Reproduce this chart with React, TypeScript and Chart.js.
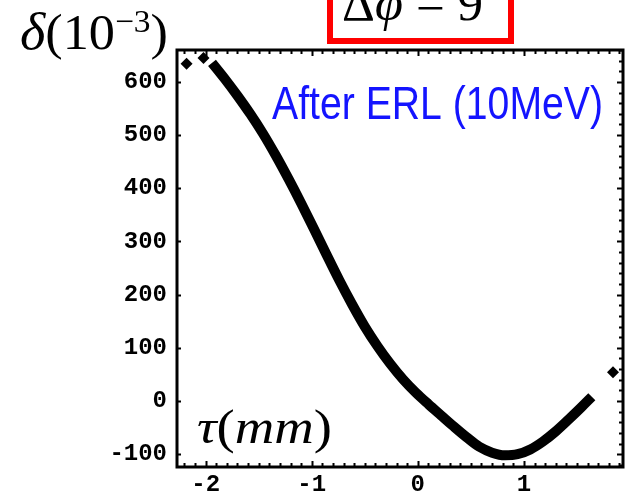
import { useEffect, useRef } from "react";
import { Chart, registerables } from "chart.js";

Chart.register(...registerables);

// Energy spread δ (10^-3) versus bunch position τ (mm) after the ERL
const TAU_MM = [
  -1.94, -1.82, -1.7, -1.58, -1.46, -1.34, -1.22, -1.1, -0.98, -0.86, -0.74, -0.62,
  -0.5, -0.38, -0.26, -0.14, -0.02, 0.1, 0.22, 0.34, 0.46, 0.58, 0.7, 0.82, 0.94,
  1.06, 1.18, 1.3, 1.42, 1.54, 1.64,
];
const DELTA = [
  636, 606, 574, 540, 503, 462, 418, 372, 324, 275, 227, 182, 140, 103, 70, 41, 16,
  -6, -27, -48, -68, -86, -97, -102, -100, -91, -76, -57, -35, -12, 8,
];

// Isolated particles away from the main distribution
const STRAY_TAU = [-2.18, -2.02, 1.84];
const STRAY_DELTA = [634, 645, 54];

const X_TICKS = [-2, -1, 0, 1];
const Y_TICKS = [-100, 0, 100, 200, 300, 400, 500, 600];
const X_MIN = -2.27;
const X_MAX = 1.934;
const Y_MIN = -124;
const Y_MAX = 660;
const X_MINOR_STEP = 0.1;
const Y_MINOR_STEP = 20;

const SERIF = "'Liberation Serif', 'Times New Roman', serif";
const TICK_FONT = { family: "'Liberation Mono', 'DejaVu Sans Mono', monospace", size: 24, weight: "bold" as const };

type Run = { t: string; font: string; dy?: number };

function drawRuns(ctx: CanvasRenderingContext2D, runs: Run[], x: number, y: number, width?: number) {
  const widths = runs.map((r) => {
    ctx.font = r.font;
    return ctx.measureText(r.t).width;
  });
  const total = widths.reduce((a, b) => a + b, 0);
  ctx.save();
  ctx.translate(x, y);
  if (width) ctx.scale(width / total, 1);
  ctx.textBaseline = "alphabetic";
  ctx.textAlign = "left";
  let cx = 0;
  runs.forEach((r, i) => {
    ctx.font = r.font;
    ctx.fillText(r.t, cx, r.dy || 0);
    cx += widths[i];
  });
  ctx.restore();
}

const framePlugin = {
  id: "frameAndLabels",
  afterDraw(chart: Chart) {
    const ctx = chart.ctx;
    const { left, right, top, bottom } = chart.chartArea;
    const xs = chart.scales.x;
    const ys = chart.scales.y;
    ctx.save();
    ctx.strokeStyle = "#000";
    ctx.lineWidth = 2;
    ctx.beginPath();
    // bottom and top ticks (pointing inward)
    const xStart = Math.ceil(X_MIN / X_MINOR_STEP);
    const xEnd = Math.floor(X_MAX / X_MINOR_STEP);
    for (let i = xStart; i <= xEnd; i++) {
      const v = i * X_MINOR_STEP;
      const px = Math.round(xs.getPixelForValue(v)) + 0.5;
      const major = Math.abs(v - Math.round(v)) < 1e-6;
      const len = major ? 6 : 4;
      ctx.moveTo(px, bottom);
      ctx.lineTo(px, bottom - len);
      ctx.moveTo(px, top);
      ctx.lineTo(px, top + len);
    }
    // right ticks every minor step, left ticks only at labelled values
    const yStart = Math.ceil(Y_MIN / Y_MINOR_STEP);
    const yEnd = Math.floor(Y_MAX / Y_MINOR_STEP);
    for (let i = yStart; i <= yEnd; i++) {
      const v = i * Y_MINOR_STEP;
      const py = Math.round(ys.getPixelForValue(v)) + 0.5;
      const major = v % 100 === 0;
      ctx.moveTo(right, py);
      ctx.lineTo(right - (major ? 6 : 4), py);
      if (major) {
        ctx.moveTo(left, py);
        ctx.lineTo(left + 4, py);
      }
    }
    ctx.stroke();

    // plot frame
    ctx.lineWidth = 3;
    ctx.strokeRect(left, top, right - left, bottom - top);

    // titles and axis captions
    ctx.fillStyle = "#000";
    drawRuns(
      ctx,
      [
        { t: "δ", font: `italic 52px ${SERIF}` },
        { t: "(10", font: `50px ${SERIF}` },
        { t: "−3", font: `32px ${SERIF}`, dy: -17 },
        { t: ")", font: `50px ${SERIF}` },
      ],
      20,
      49,
      148
    );
    drawRuns(
      ctx,
      [
        { t: "τ", font: `italic 48px ${SERIF}` },
        { t: "(", font: `48px ${SERIF}` },
        { t: "mm", font: `italic 48px ${SERIF}` },
        { t: ")", font: `48px ${SERIF}` },
      ],
      197,
      443,
      135
    );
    drawRuns(
      ctx,
      [
        { t: "Δ", font: `50px ${SERIF}` },
        { t: "φ", font: `italic 50px ${SERIF}` },
        { t: " = 9", font: `50px ${SERIF}` },
      ],
      342,
      20,
      141
    );
    ctx.strokeStyle = "#ff0000";
    ctx.lineWidth = 6;
    ctx.strokeRect(330, -20, 181, 61);

    ctx.fillStyle = "#1414ff";
    drawRuns(
      ctx,
      [{ t: "After ERL (10MeV)", font: `46px 'Liberation Sans Narrow', 'Liberation Sans', Arial, sans-serif` }],
      272,
      119,
      331
    );
    ctx.restore();
  },
};

export default function App() {
  const canvasRef = useRef<HTMLCanvasElement | null>(null);

  useEffect(() => {
    const canvas = canvasRef.current;
    if (!canvas) return;
    const curve = TAU_MM.map((x, i) => ({ x, y: DELTA[i] }));
    const stray = STRAY_TAU.map((x, i) => ({ x, y: STRAY_DELTA[i] }));

    const chart = new Chart(canvas, {
      type: "scatter",
      data: {
        datasets: [
          {
            data: curve,
            showLine: true,
            borderColor: "#000",
            backgroundColor: "#000",
            borderWidth: 10,
            pointRadius: 0,
            cubicInterpolationMode: "monotone",
            borderCapStyle: "butt",
            borderJoinStyle: "round",
          },
          {
            data: stray,
            showLine: false,
            pointStyle: "rectRot",
            pointRadius: 6,
            backgroundColor: "#000",
            borderColor: "#000",
            borderWidth: 0,
          },
        ],
      },
      options: {
        responsive: false,
        animation: false,
        devicePixelRatio: 1,
        layout: { padding: { top: 50, right: 11, left: 0, bottom: 0 } },
        plugins: { legend: { display: false }, tooltip: { enabled: false } },
        scales: {
          x: {
            type: "linear",
            min: X_MIN,
            max: X_MAX,
            grid: { display: false, drawTicks: false },
            border: { display: false },
            ticks: { font: TICK_FONT, color: "#000", padding: 4, autoSkip: false, maxRotation: 0 },
            afterBuildTicks: (s: any) => {
              s.ticks = X_TICKS.map((value) => ({ value }));
            },
            afterFit: (s: any) => {
              s.height = 27;
            },
          },
          y: {
            type: "linear",
            min: Y_MIN,
            max: Y_MAX,
            grid: { display: false, drawTicks: false },
            border: { display: false },
            ticks: { font: TICK_FONT, color: "#000", padding: 10, autoSkip: false },
            afterBuildTicks: (s: any) => {
              s.ticks = Y_TICKS.map((value) => ({ value }));
            },
            afterFit: (s: any) => {
              s.width = 177;
            },
          },
        },
      },
      plugins: [framePlugin],
    });
    return () => chart.destroy();
  }, []);

  return (
    <div style={{ position: "fixed", left: 0, top: 0, width: 634, height: 494, background: "#fff" }}>
      <canvas ref={canvasRef} width={634} height={494} style={{ display: "block" }} />
    </div>
  );
}
